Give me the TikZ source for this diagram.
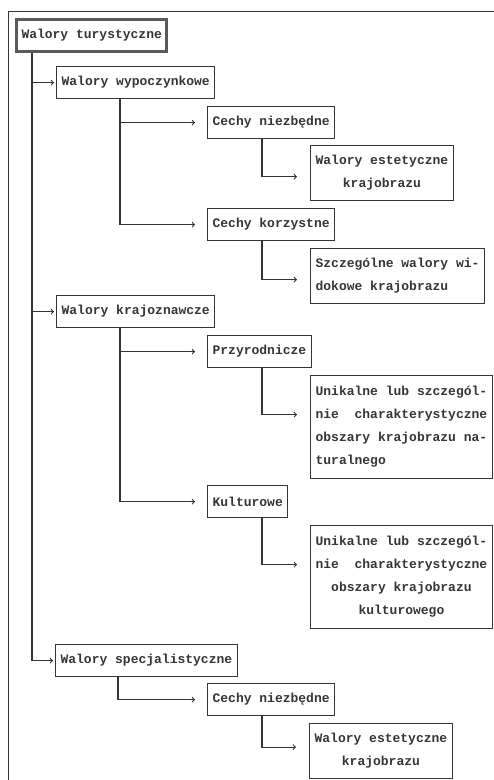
\documentclass[tikz,border=0pt]{standalone}
\usepackage{fontspec}
\usepackage{tikz}
\usetikzlibrary{arrows,positioning}
\newfontfamily\typewriter{Liberation Mono}
\definecolor{ink}{HTML}{353535}
\definecolor{rim}{HTML}{5A5A5A}
\tikzset{box/.style={draw=ink, line width=1.2pt, anchor=north west, inner xsep=5pt, inner ysep=0pt, minimum height=32pt, text=ink, font=\typewriter\bfseries\fontsize{13}{23}\selectfont}}
\tikzset{rootbox/.style={box, draw=rim, line width=3pt}}
\tikzset{link/.style={draw=ink, line width=1.1pt, -to}}

\begin{document}
\begin{tikzpicture}[x=1pt, y=-1pt]
        \useasboundingbox (0,0) rectangle (494,780);
        \draw[ink, line width=1pt] (494,11) -- (8,11) -- (8,780);

        \node[rootbox] (root) at (15,18) {Walory turystyczne};
        \node[box] (wyp) at (56,66) {Walory wypoczynkowe};
        \node[box] (cn1) at (207,106) {Cechy niezbędne};
        \node[box, minimum height=55pt, align=center] (we1) at (310,145) {Walory estetyczne\\krajobrazu};
        \node[box] (ck) at (207,208) {Cechy korzystne};
        \node[box, minimum height=55pt, align=left] (sz) at (310,248) {Szczególne walory wi-\\dokowe krajobrazu};
        \node[box] (kraj) at (56,295) {Walory krajoznawcze};
        \node[box] (prz) at (207,335) {Przyrodnicze};
        \node[box, minimum height=103pt, align=left] (un1) at (310,375) {Unikalne lub szczegól-\\nie\ \ charakterystyczne\\obszary krajobrazu na-\\turalnego};
        \node[box] (kul) at (207,485) {Kulturowe};
        \node[box, minimum height=103pt, align=center] (un2) at (310,525) {Unikalne lub szczegól-\\nie\ \ charakterystyczne\\obszary krajobrazu\\kulturowego};
        \node[box] (spec) at (55,644) {Walory specjalistyczne};
        \node[box] (cn2) at (207,683) {Cechy niezbędne};
        \node[box, minimum height=55pt, align=center] (we2) at (309,723) {Walory estetyczne\\krajobrazu};

        \draw[link, shorten >=2pt] ([xshift=17pt]root.south west) |- (wyp.west);
        \draw[link, shorten >=2pt] ([xshift=17pt]root.south west) |- (kraj.west);
        \draw[link, shorten >=2pt] ([xshift=17pt]root.south west) |- (spec.west);

        \draw[link, shorten >=12pt] ([xshift=64pt]wyp.south west) |- (cn1.west);
        \draw[link, shorten >=12pt] ([xshift=64pt]wyp.south west) |- (ck.west);
        \draw[link, shorten >=12pt] ([xshift=64pt]kraj.south west) |- (prz.west);
        \draw[link, shorten >=12pt] ([xshift=64pt]kraj.south west) |- (kul.west);
        \draw[link, shorten >=12pt] ([xshift=63pt]spec.south west) |- (cn2.west);

        \draw[link, shorten >=13pt] ([xshift=55pt]cn1.south west) |- ([yshift=-3.5pt]we1.west);
        \draw[link, shorten >=13pt] ([xshift=55pt]ck.south west) |- ([yshift=-3.5pt]sz.west);
        \draw[link, shorten >=13pt] ([xshift=55pt]prz.south west) |- ([yshift=12.5pt]un1.west);
        \draw[link, shorten >=13pt] ([xshift=55pt]kul.south west) |- ([yshift=12.5pt]un2.west);
        \draw[link, shorten >=13pt] ([xshift=55pt]cn2.south west) |- ([yshift=4pt]we2.west);
\end{tikzpicture}
\end{document}
